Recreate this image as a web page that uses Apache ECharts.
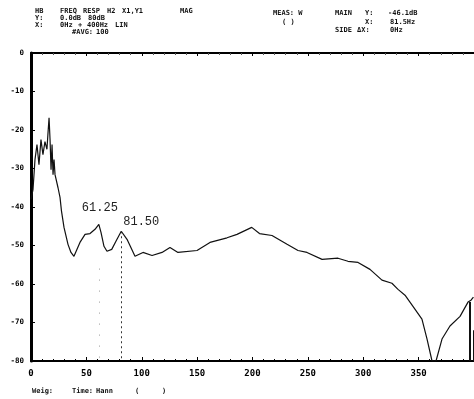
<!DOCTYPE html>
<html>
<head>
<meta charset="utf-8">
<script src="https://cdn.jsdelivr.net/npm/echarts@6/dist/echarts.min.js"></script>
<style>
  html, body { margin: 0; padding: 0; background: #fff; }
  #chart { width: 474px; height: 399px; }
</style>
</head>
<body>
<div id="chart"></div>
<script>
// frequency response trace (Hz, dB)
const freqHz = [0, 1.8, 3.6, 5.4, 7.2, 9.0, 10.8, 12.6, 14.4, 15.3, 16.3, 17.2, 18.1, 19.0, 19.9, 20.8, 21.7,
  24.4, 26.2, 27.5, 29.8, 33.4, 36.1, 38.8, 44.2, 48.8, 53.3, 57.8, 61.25, 63.2, 65.9, 68.6, 72.9, 76.7, 81.5,
  86.7, 93.9, 101.1, 109.3, 118.3, 125.5, 132.7, 149.9, 161.6, 177.0, 186.0, 199.3, 206.3, 217.6, 231.2,
  241.1, 249.2, 262.8, 277.2, 286.2, 295.3, 306.1, 316.9, 325.9, 331.4, 337.7, 344.9, 353.0, 357.6,
  362.1, 365.7, 371.1, 378.3, 387.4, 394.6, 397.3, 399.5];
const magDb = [-38, -35.5, -27.7, -23.8, -29, -22.5, -26.4, -23, -25, -21, -16.8, -22.5, -30.3, -23.8, -31.6, -27.7, -31.6,
  -35, -37.5, -41, -45.3, -49.7, -51.8, -52.8, -49.2, -47.1, -46.9, -45.8, -44.5, -46.6, -50.2, -51.5, -51, -48.9, -46.3,
  -48.4, -52.8, -51.8, -52.6, -51.8, -50.5, -51.8, -51.3, -49.2, -48, -47.1, -45.3, -46.9, -47.4, -49.7,
  -51.3, -51.8, -53.6, -53.3, -54.1, -54.4, -56.2, -59, -59.8, -61.4, -62.9, -65.8, -69.1, -74.3,
  -80, -80, -74.3, -70.9, -68.4, -64.7, -64.2, -63.4];

// marked peaks
const peakHz = [61.25, 81.5];
const peakDb = [-44.5, -46.3];
const peakText = ['61.25', '81.50'];

// vertical bars at the right edge of the trace
const barHz = [395.8, 399.6];
const barTopDb = [-64.7, -72];

const xTicks = [0, 50, 100, 150, 200, 250, 300, 350];
const yTicks = [0, -10, -20, -30, -40, -50, -60, -70, -80];

const chart = echarts.init(document.getElementById('chart'), null, { renderer: 'canvas' });

const hdrFont = { fontFamily: 'DejaVu Sans Mono', fontSize: 7, fontWeight: 'bold', fill: '#111' };
// header / footer text as [x, y, text]
const headerItems = [
  [35, 12, 'HB'], [60, 12, 'FREQ'], [83, 12, 'RESP'], [107, 12, 'H2'], [122, 12, 'X1,Y1'], [180, 12, 'MAG'],
  [35, 19, 'Y:'], [60, 19, '0.0dB'], [88, 19, '80dB'],
  [35, 26, 'X:'], [60, 26, '0Hz'], [78, 26, '+'], [87, 26, '400Hz'], [115, 26, 'LIN'],
  [72, 33, '#AVG:'], [96, 33, '100'],
  [273, 14, 'MEAS: W'], [335, 14, 'MAIN'], [365, 14, 'Y:'], [388, 14, '-46.1dB'],
  [282, 23, '( )'], [365, 23, 'X:'], [390, 23, '81.5Hz'],
  [335, 31, 'SIDE'], [357, 31, 'ΔX:'], [390, 31, '0Hz'],
  [32, 392, 'Weig:'], [72, 392, 'Time:'], [96, 392, 'Hann'], [135, 392, '('], [162, 392, ')']
];

const graphics = headerItems.map(([x, y, t]) => ({
  type: 'text', left: x, top: y - 4,
  style: Object.assign({ text: t }, hdrFont)
}));

const traceData = freqHz.map((f, i) => [f, magDb[i]]);

const markLines = peakHz.map((f, i) => [
  { coord: [f, i === 0 ? -56 : peakDb[i]], lineStyle: { type: i === 0 ? [1, 10] : [2, 3], color: i === 0 ? '#999' : '#333', width: 1 } },
  { coord: [f, -80] }
]).concat(barHz.map((f, i) => [
  { coord: [f, barTopDb[i]], lineStyle: { type: 'solid', color: '#111', width: 2 } },
  { coord: [f, -80] }
]));

const markPoints = peakHz.map((f, i) => ({
  coord: [f, peakDb[i]],
  symbol: 'circle', symbolSize: 0,
  label: {
    show: true, formatter: peakText[i], position: 'inside',
    offset: i === 0 ? [1, -16] : [20, -9],
    fontFamily: 'Liberation Mono', fontSize: 12, color: '#222'
  }
}));

const option = {
  animation: false,
  backgroundColor: '#fff',
  grid: { left: 31, right: 0, top: 53, bottom: 38 },
  graphic: graphics,
  xAxis: [{
    type: 'value', min: 0, max: 400, interval: 50,
    axisLine: { show: true, onZero: false, lineStyle: { color: '#000', width: 2 } },
    axisTick: { show: true, inside: true, length: 4, lineStyle: { color: '#000' } },
    minorTick: { show: true, splitNumber: 5, length: 2, lineStyle: { color: '#000' } },
    splitLine: { show: false },
    axisLabel: {
      margin: 8, color: '#000', fontFamily: 'DejaVu Sans Mono', fontWeight: 'bold', fontSize: 9,
      showMaxLabel: false,
      formatter: v => xTicks.indexOf(v) >= 0 ? String(v) : ''
    }
  }, {
    type: 'value', min: 0, max: 400, interval: 50, position: 'top',
    axisLine: { show: true, onZero: false, lineStyle: { color: '#000', width: 2 } },
    axisTick: { show: true, inside: true, length: 3, lineStyle: { color: '#000' } },
    minorTick: { show: true, splitNumber: 5, length: 2, lineStyle: { color: '#555' } },
    splitLine: { show: false },
    axisLabel: { show: false }
  }],
  yAxis: {
    type: 'value', min: -80, max: 0, interval: 10,
    axisLine: { show: true, onZero: false, lineStyle: { color: '#000', width: 3 } },
    axisTick: { show: true, inside: true, length: 4, lineStyle: { color: '#000' } },
    minorTick: { show: true, splitNumber: 5, length: 2, lineStyle: { color: '#000' } },
    splitLine: { show: false },
    axisLabel: {
      margin: 7, color: '#000', fontFamily: 'DejaVu Sans Mono', fontWeight: 'bold', fontSize: 7.5,
      formatter: v => yTicks.indexOf(v) >= 0 ? String(v) : ''
    }
  },
  series: [{
    type: 'line',
    xAxisIndex: 0,
    data: traceData,
    showSymbol: false,
    smooth: false,
    lineStyle: { color: '#111', width: 1.2 },
    markLine: {
      silent: true, symbol: 'none', label: { show: false },
      data: markLines
    },
    markPoint: {
      silent: true,
      data: markPoints
    }
  }]
};

chart.setOption(option);
</script>
</body>
</html>
